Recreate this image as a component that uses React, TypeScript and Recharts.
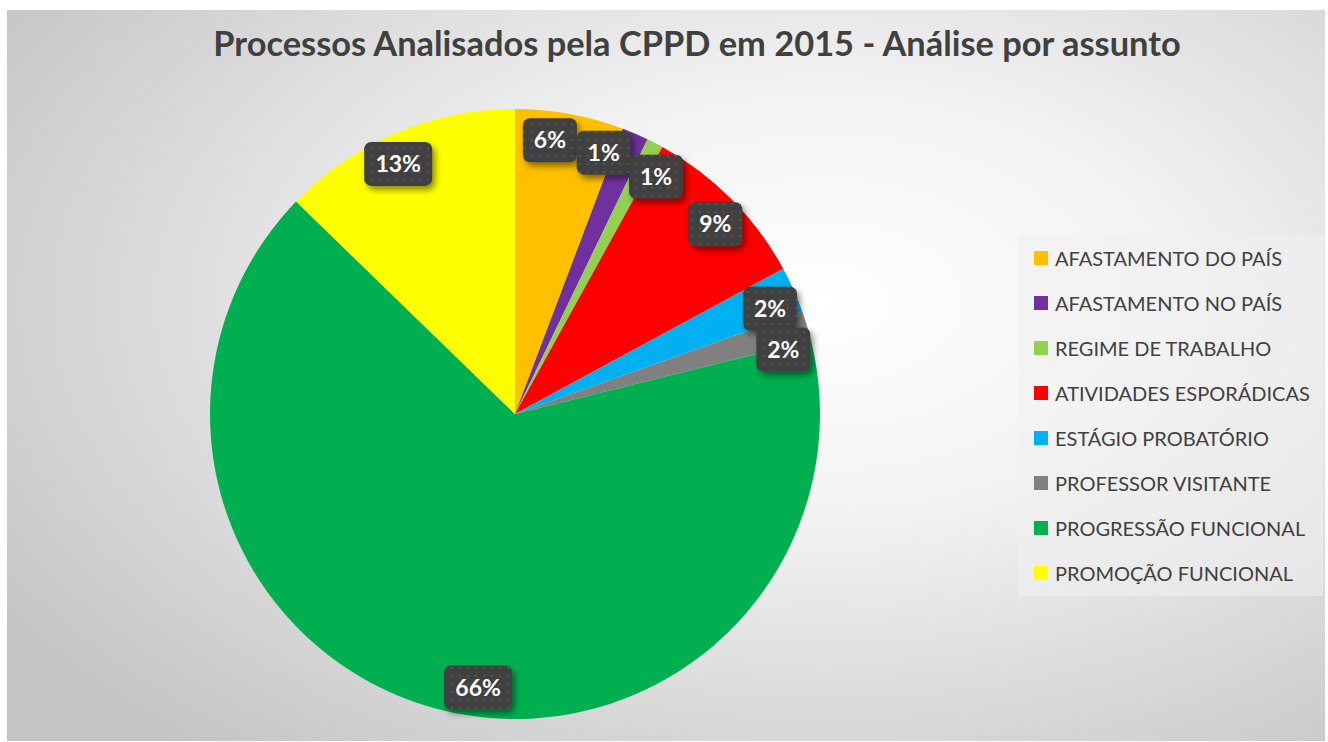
import React from "react"
import { PieChart, Pie, Cell, Legend } from "recharts"

const categories = [
    "AFASTAMENTO DO PAÍS",
    "AFASTAMENTO NO PAÍS",
    "REGIME DE TRABALHO",
    "ATIVIDADES ESPORÁDICAS",
    "ESTÁGIO PROBATÓRIO",
    "PROFESSOR VISITANTE",
    "PROGRESSÃO FUNCIONAL",
    "PROMOÇÃO FUNCIONAL",
]

// number of processes per subject
const processCounts = [33, 8, 5, 52, 14, 9, 379, 73]

const sliceColors = ["#FFC000", "#7030A0", "#92D050", "#FF0000", "#00B0F0", "#808080", "#00B050", "#FFFF00"]

// small angular nudges (degrees, clockwise) so labels don't pile up, like Excel's best fit
const labelNudge = [-3.1, -4.5, 3.4, 1.3, 1.6, 3.3, -7.4, -2.1]

const TITLE = "Processos Analisados pela CPPD em 2015 - Análise por assunto"

const data = categories.map((name, i) => ({ name, value: processCounts[i] }))

const RAD = Math.PI / 180

// eslint-disable-next-line @typescript-eslint/no-explicit-any
function BoxLabel(props: any) {
    const { cx, cy, midAngle, outerRadius, percent, index } = props
    const angle = midAngle - labelNudge[index]
    const r = outerRadius - 29
    const x = cx + r * Math.cos(-angle * RAD)
    const y = cy + r * Math.sin(-angle * RAD)
    const text = `${Math.round(percent * 100)}%`
    const w = 26 + 14 * text.length
    const h = 44
    return (
        <g>
            <rect x={x - w / 2} y={y - h / 2} width={w} height={h} rx={7} fill="#404040" filter="url(#lblShadow)" />
            <rect x={x - w / 2} y={y - h / 2} width={w} height={h} rx={7} fill="url(#dots)" />
            <text
                x={x}
                y={y}
                dy={8}
                textAnchor="middle"
                fill="#fff"
                fontSize={23}
                fontWeight={700}
                fontFamily="Lato, sans-serif"
            >
                {text}
            </text>
        </g>
    )
}

function LegendBox() {
    return (
        <div
            style={{
                width: 305,
                height: 361,
                background: "rgba(240,240,240,0.55)",
                boxSizing: "border-box",
                paddingTop: 0,
                fontFamily: "Lato, sans-serif",
            }}
        >
            {categories.map((c, i) => (
                <div key={c} style={{ display: "flex", alignItems: "center", height: 45 }}>
                    <span
                        style={{
                            display: "inline-block",
                            width: 14,
                            height: 14,
                            background: sliceColors[i],
                            marginLeft: 16,
                            marginRight: 7,
                        }}
                    />
                    <span style={{ fontSize: 20, color: "#404040", whiteSpace: "nowrap" }}>{c}</span>
                </div>
            ))}
        </div>
    )
}

export default function App() {
    return (
        <div style={{ position: "absolute", left: 0, top: 0, width: 1328, height: 742, background: "#fff" }}>
            <div
                style={{
                    position: "absolute",
                    left: 7,
                    top: 10,
                    width: 1318,
                    height: 731,
                    background: "radial-gradient(ellipse 75% 80% at 62% 40%, #ffffff 0%, #f3f3f3 35%, #dadada 70%, #c4c4c4 100%)",
                }}
            />
            <div
                style={{
                    position: "absolute",
                    left: 7,
                    top: 22,
                    width: 1380,
                    textAlign: "center",
                    fontFamily: "Lato, sans-serif",
                    fontWeight: 700,
                    fontSize: 34.4,
                    color: "#404040",
                    whiteSpace: "nowrap",
                }}
            >
                {TITLE}
            </div>
            <div style={{ position: "absolute", left: 0, top: 0 }}>
                <PieChart width={1328} height={742}>
                    <defs>
                        <pattern id="dots" width="8" height="8" patternUnits="userSpaceOnUse">
                            <circle cx="4" cy="4" r="1.1" fill="#585858" />
                        </pattern>
                        <filter id="lblShadow" x="-30%" y="-30%" width="160%" height="170%">
                            <feDropShadow dx="3" dy="4" stdDeviation="3" floodColor="#000" floodOpacity="0.45" />
                        </filter>
                    </defs>
                    <Pie
                        data={data}
                        dataKey="value"
                        nameKey="name"
                        cx={510}
                        cy={409}
                        outerRadius={305}
                        startAngle={90}
                        endAngle={-270}
                        stroke="none"
                        label={BoxLabel}
                        labelLine={false}
                        isAnimationActive={false}
                    >
                        {data.map((_, i) => (
                            <Cell key={`cell-${i}`} fill={sliceColors[i]} />
                        ))}
                    </Pie>
                    <Legend
                        layout="vertical"
                        content={() => <LegendBox />}
                        wrapperStyle={{ position: "absolute", left: 1018, top: 235, width: 305, height: 361 }}
                    />
                </PieChart>
            </div>
        </div>
    )
}
